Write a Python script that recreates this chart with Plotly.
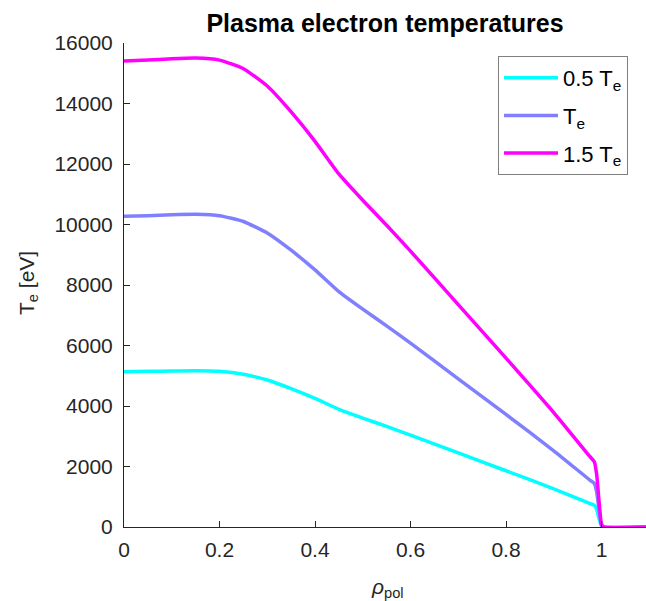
import plotly.graph_objects as go

# ---- data ----
rho = [0, 0.05, 0.1, 0.15, 0.2, 0.25, 0.3, 0.35, 0.4, 0.45, 0.5, 0.55, 0.6,
       0.7, 0.8, 0.9, 0.975, 0.985, 0.99, 0.995, 1.0, 1.005, 1.1]
te_half = [5135, 5145, 5160, 5168, 5145, 5050, 4860, 4575, 4250, 3890, 3600,
           3325, 3040, 2450, 1860, 1260, 780, 720, 575, 275, 30, 0, 0]
te_base = [10270, 10290, 10320, 10335, 10290, 10100, 9720, 9150, 8500, 7780,
           7200, 6650, 6080, 4900, 3720, 2520, 1560, 1440, 1150, 550, 60, 0, 0]
te_onehalf = [15405, 15435, 15480, 15502, 15435, 15150, 14580, 13725, 12750,
              11670, 10800, 9975, 9120, 7350, 5580, 3780, 2340, 2160, 1725,
              825, 90, 0, 0]

series_names = ["0.5 T<sub>e</sub>", "T<sub>e</sub>", "1.5 T<sub>e</sub>"]
series_values = [te_half, te_base, te_onehalf]
series_colors = ["#00FFFF", "#8080FF", "#FF00FF"]

x_ticks = [0, 0.2, 0.4, 0.6, 0.8, 1]
x_tick_labels = ["0", "0.2", "0.4", "0.6", "0.8", "1"]
y_ticks = [0, 2000, 4000, 6000, 8000, 10000, 12000, 14000, 16000]
y_tick_labels = [str(v) for v in y_ticks]

FONT = "Liberation Sans, Arial, Helvetica, sans-serif"
AX = "#262626"
FS = 21

fig = go.Figure()
for i, (name, vals, col) in enumerate(zip(series_names, series_values, series_colors)):
    fig.add_trace(go.Scatter(
        x=rho, y=vals, mode="lines", name=name,
        line=dict(color=col, width=3.5, shape="spline", smoothing=0.5),
        legendgroup=f"g{i}",
    ))

fig.update_layout(
    width=646, height=601,
    margin=dict(l=124, r=0, t=43, b=74, pad=0),
    paper_bgcolor="white", plot_bgcolor="white",
    font=dict(family=FONT, size=FS, color=AX),
    title=dict(text="<b>Plasma electron temperatures</b>",
               font=dict(family=FONT, size=25, color="black"),
               x=0.5, xref="paper", xanchor="center",
               y=1 - 23 / 601, yref="container", yanchor="middle"),
    showlegend=True,
    legend=dict(
        x=(498 - 124) / 522, y=(527 - 56) / 484, xanchor="left", yanchor="top",
        bgcolor="white", bordercolor="#7f7f7f", borderwidth=1,
        font=dict(family=FONT, size=22, color="black"),
        itemwidth=54, tracegroupgap=6,
    ),
    xaxis=dict(
        range=[0, 1.0932], tickmode="array", tickvals=x_ticks, ticktext=x_tick_labels,
        ticks="inside", ticklen=6, tickcolor=AX, tickwidth=1,
        showline=True, linecolor=AX, linewidth=1, mirror=False,
        showgrid=False, zeroline=False, ticklabelstandoff=4,
        tickfont=dict(family=FONT, size=FS, color=AX),
    ),
    yaxis=dict(
        range=[0, 16000], tickmode="array", tickvals=y_ticks, ticktext=y_tick_labels,
        ticks="inside", ticklen=6, tickcolor=AX, tickwidth=1,
        showline=True, linecolor=AX, linewidth=1, mirror=False,
        showgrid=False, zeroline=False, ticklabelstandoff=6,
        tickfont=dict(family=FONT, size=FS, color=AX),
    ),
    annotations=[
        dict(text="T<sub>e</sub> [eV]", xref="paper", yref="paper",
             x=(28 - 124) / 522, y=(527 - 283) / 484, textangle=-90,
             showarrow=False, xanchor="center", yanchor="middle",
             font=dict(family=FONT, size=FS, color=AX)),
        dict(text="<i>ρ</i><sub>pol</sub>", xref="paper", yref="paper",
             x=(387 - 124) / 522, y=(527 - 588) / 484,
             showarrow=False, xanchor="center", yanchor="middle",
             font=dict(family=FONT, size=FS, color=AX)),
    ],
)

fig.write_html("out.html")
